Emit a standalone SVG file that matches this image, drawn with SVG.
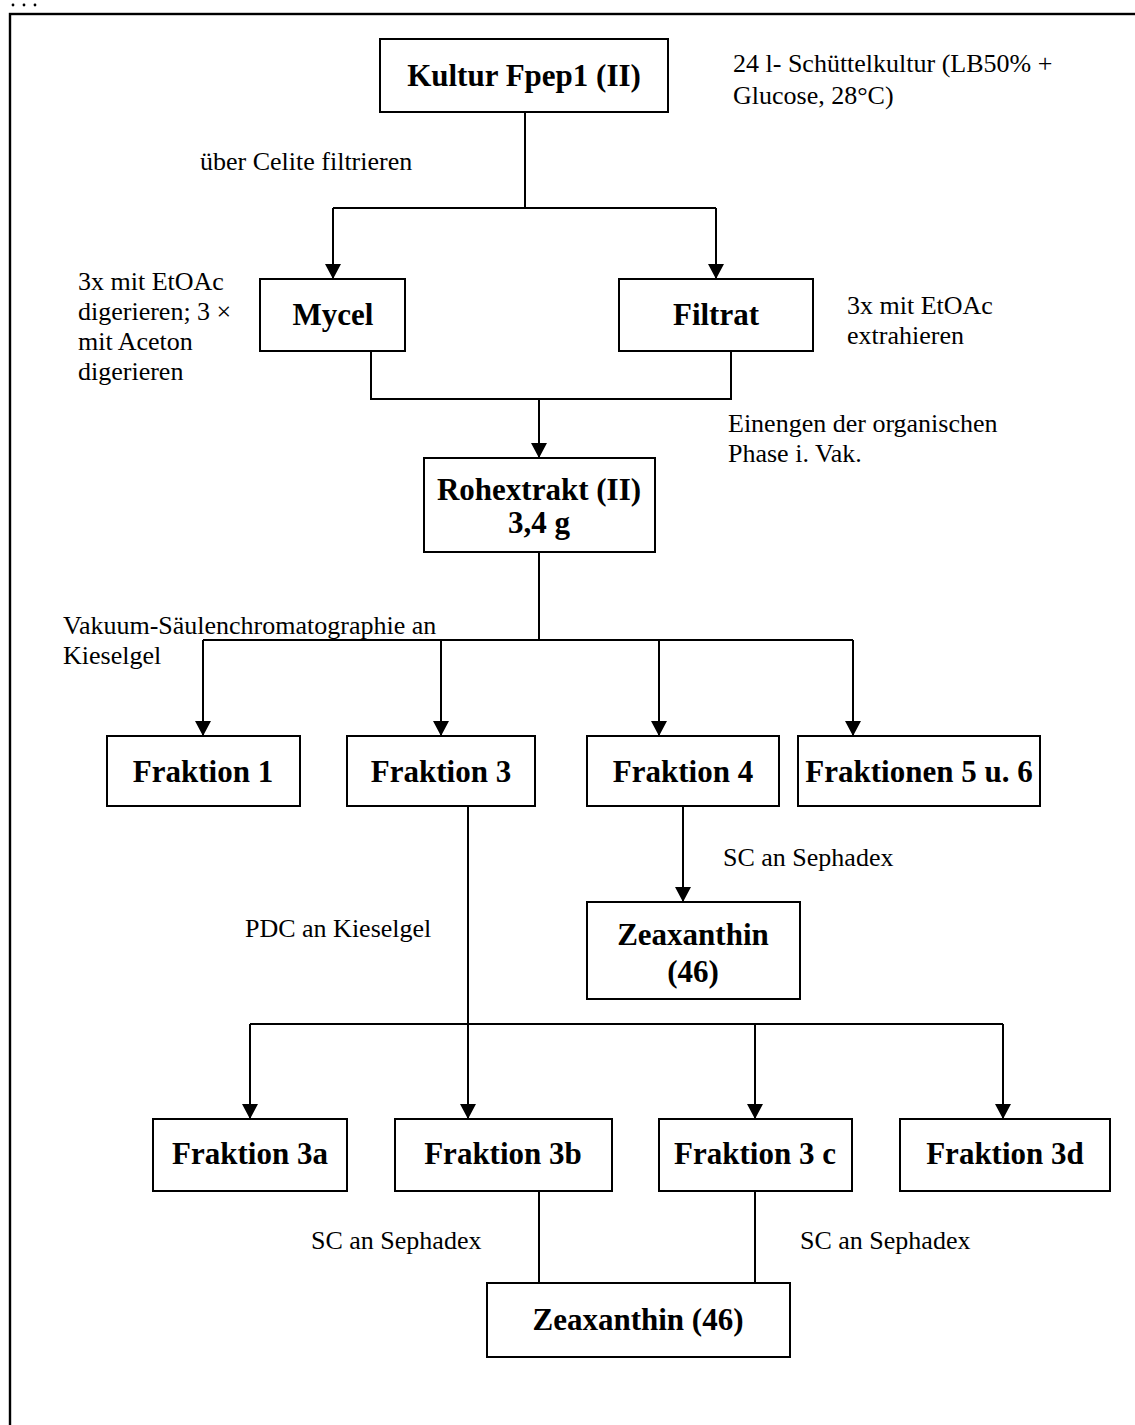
<svg xmlns="http://www.w3.org/2000/svg" width="1135" height="1425" viewBox="0 0 1135 1425">
  <style>
    .box { fill: #ffffff; stroke: #000000; stroke-width: 2; }
    .lbl { font-family: "Liberation Serif", "Times New Roman", serif; font-weight: bold; font-size: 31px; fill: #000000; text-anchor: middle; }
    .note { font-family: "Liberation Serif", "Times New Roman", serif; font-size: 26px; fill: #000000; }
    .wire { fill: none; stroke: #000000; stroke-width: 2; }
    .arrow { marker-end: url(#head); }
  </style>
  <defs>
    <!-- solid triangular arrowhead, tip at the end of the path -->
    <marker id="head" markerUnits="userSpaceOnUse" markerWidth="15" markerHeight="16" refX="15" refY="8" orient="auto" viewBox="0 0 15 16">
      <path d="M0,0 L15,8 L0,16 Z" fill="#000000"/>
    </marker>
  </defs>
  <rect width="1135" height="1425" fill="#ffffff"/>

  <!-- page frame and leading ellipsis -->
  <g id="frame">
    <circle cx="13" cy="5" r="1.4" fill="#000"/>
    <circle cx="24" cy="5" r="1.4" fill="#000"/>
    <circle cx="35" cy="5" r="1.4" fill="#000"/>
    <rect x="10" y="14" width="1200" height="1500" fill="none" stroke="#000" stroke-width="2.4"/>
  </g>

  <!-- connectors -->
  <g id="connectors">
    <path class="wire" d="M525,112 V208"/>
    <path class="wire" d="M333,208 H716"/>
    <path class="wire arrow" d="M333,208 V279"/>
    <path class="wire arrow" d="M716,208 V279"/>
    <path class="wire" d="M371,351 V399 H731 V351"/>
    <path class="wire arrow" d="M539,399 V458"/>
    <path class="wire" d="M539,552 V640"/>
    <path class="wire" d="M203,640 H853"/>
    <path class="wire arrow" d="M203,640 V736"/>
    <path class="wire arrow" d="M441,640 V736"/>
    <path class="wire arrow" d="M659,640 V736"/>
    <path class="wire arrow" d="M853,640 V736"/>
    <path class="wire arrow" d="M683,806 V902"/>
    <path class="wire arrow" d="M468,806 V1119"/>
    <path class="wire" d="M250,1024 H1003"/>
    <path class="wire arrow" d="M250,1024 V1119"/>
    <path class="wire arrow" d="M755,1024 V1119"/>
    <path class="wire arrow" d="M1003,1024 V1119"/>
    <path class="wire" d="M539,1191 V1283"/>
    <path class="wire" d="M755,1191 V1283"/>
  </g>

  <!-- nodes -->
  <g id="kultur">
    <rect class="box" x="380" y="39" width="288" height="73"/>
    <text class="lbl" x="524" y="86">Kultur Fpep1 (II)</text>
  </g>
  <g id="mycel">
    <rect class="box" x="260" y="279" width="145" height="72"/>
    <text class="lbl" x="333" y="325">Mycel</text>
  </g>
  <g id="filtrat">
    <rect class="box" x="619" y="279" width="194" height="72"/>
    <text class="lbl" x="716" y="325">Filtrat</text>
  </g>
  <g id="rohextrakt">
    <rect class="box" x="424" y="458" width="231" height="94"/>
    <text class="lbl" x="539" y="500">Rohextrakt (II)</text>
    <text class="lbl" x="539" y="533">3,4 g</text>
  </g>
  <g id="fraktion1">
    <rect class="box" x="107" y="736" width="193" height="70"/>
    <text class="lbl" x="203" y="782">Fraktion 1</text>
  </g>
  <g id="fraktion3">
    <rect class="box" x="347" y="736" width="188" height="70"/>
    <text class="lbl" x="441" y="782">Fraktion 3</text>
  </g>
  <g id="fraktion4">
    <rect class="box" x="587" y="736" width="192" height="70"/>
    <text class="lbl" x="683" y="782">Fraktion 4</text>
  </g>
  <g id="fraktion56">
    <rect class="box" x="798" y="736" width="242" height="70"/>
    <text class="lbl" x="919" y="782">Fraktionen 5 u. 6</text>
  </g>
  <g id="zeaxanthin1">
    <rect class="box" x="587" y="902" width="213" height="97"/>
    <text class="lbl" x="693" y="945">Zeaxanthin</text>
    <text class="lbl" x="693" y="982">(46)</text>
  </g>
  <g id="fraktion3a">
    <rect class="box" x="153" y="1119" width="194" height="72"/>
    <text class="lbl" x="250" y="1164">Fraktion 3a</text>
  </g>
  <g id="fraktion3b">
    <rect class="box" x="395" y="1119" width="217" height="72"/>
    <text class="lbl" x="503" y="1164">Fraktion 3b</text>
  </g>
  <g id="fraktion3c">
    <rect class="box" x="659" y="1119" width="193" height="72"/>
    <text class="lbl" x="755" y="1164">Fraktion 3 c</text>
  </g>
  <g id="fraktion3d">
    <rect class="box" x="900" y="1119" width="210" height="72"/>
    <text class="lbl" x="1005" y="1164">Fraktion 3d</text>
  </g>
  <g id="zeaxanthin2">
    <rect class="box" x="487" y="1283" width="303" height="74"/>
    <text class="lbl" x="638" y="1330">Zeaxanthin (46)</text>
  </g>

  <!-- step annotations -->
  <g id="notes">
    <text class="note" x="733" y="72">24 l- Schüttelkultur (LB50% +</text>
    <text class="note" x="733" y="104">Glucose, 28°C)</text>
    <text class="note" x="200" y="170">über Celite filtrieren</text>
    <text class="note" x="78" y="290">3x mit EtOAc</text>
    <text class="note" x="78" y="320">digerieren; 3 ×</text>
    <text class="note" x="78" y="350">mit Aceton</text>
    <text class="note" x="78" y="380">digerieren</text>
    <text class="note" x="847" y="314">3x mit EtOAc</text>
    <text class="note" x="847" y="344">extrahieren</text>
    <text class="note" x="728" y="432">Einengen der organischen</text>
    <text class="note" x="728" y="462">Phase i. Vak.</text>
    <text class="note" x="63" y="634">Vakuum-Säulenchromatographie an</text>
    <text class="note" x="63" y="664">Kieselgel</text>
    <text class="note" x="723" y="866">SC an Sephadex</text>
    <text class="note" x="245" y="937">PDC an Kieselgel</text>
    <text class="note" x="311" y="1249">SC an Sephadex</text>
    <text class="note" x="800" y="1249">SC an Sephadex</text>
  </g>
</svg>
